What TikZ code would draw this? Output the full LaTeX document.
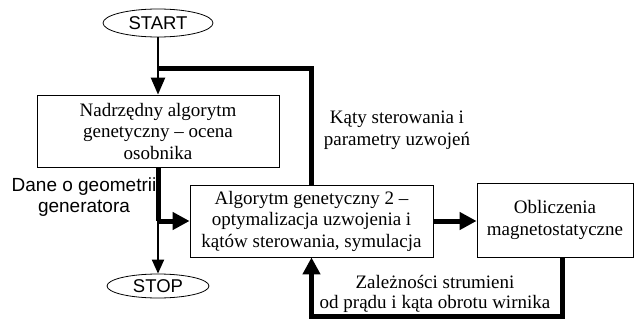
\documentclass[tikz,border=0pt]{standalone}
\usepackage{fontspec}
\setmainfont{Liberation Serif}
\newfontfamily\arialf{Liberation Sans}
\usetikzlibrary{arrows.meta,shapes.geometric}
\begin{document}
\begin{tikzpicture}[x=1pt,y=-1pt,
  box/.style={draw,line width=0.8pt,rectangle,align=center,inner sep=0pt,
    font=\fontsize{19}{21.5}\selectfont},
  term/.style={draw,line width=0.8pt,ellipse,inner sep=0pt,
    font=\arialf\fontsize{18.5}{20}\selectfont},
  lbl/.style={align=center,inner sep=0pt,font=\fontsize{19}{22}\selectfont},
  lblb/.style={align=center,inner sep=0pt,font=\fontsize{19}{20}\selectfont},
  slbl/.style={align=center,inner sep=0pt,font=\arialf\fontsize{19}{21.5}\selectfont},
  thickline/.style={line width=5pt,line join=miter},
  bigtip/.style={-{Triangle[length=17pt,width=17pt]}},
  midtip/.style={-{Triangle[length=17pt,width=14pt]}},
  smalltip/.style={-{Triangle[length=14pt,width=12pt]}}
]
\useasboundingbox (0,0) rectangle (637,321);
\node[term,minimum width=110pt,minimum height=28pt] (start) at (158,23) {START};
\node[box,minimum width=242pt,minimum height=72pt] (b1) at (158,131)
  {Nadrzędny algorytm\\genetyczny – ocena\\osobnika};
\node[box,minimum width=243pt,minimum height=72pt] (b2) at (311.5,221)
  {Algorytm genetyczny 2 –\\optymalizacja uzwojenia i\\kątów sterowania, symulacja};
\node[box,minimum width=156pt,minimum height=74pt] (b3) at (555,220)
  {Obliczenia\\magnetostatyczne};
\node[term,minimum width=102pt,minimum height=24pt] (stop) at (158,286) {STOP};

\node[lbl] (l1) at (397,130) {Kąty sterowania i\\parametry uzwojeń};
\node[slbl] (l2) at (84,197) {Dane o geometrii\\generatora};
\node[lblb] (l3) at (435,294) {Zależności strumieni\\od prądu i kąta obrotu wirnika};

\coordinate (j1) at (158,69);
\coordinate (j2) at (158,221);
\coordinate (f) at (562,316);

\draw[line width=2.5pt,midtip] (start.south) -- (b1.north);
\draw[thickline] (b2.north) |- (j1);
\draw[thickline] (b1.south) -- (j2);
\draw[thickline,bigtip] (j2) -- (b2.west);
\draw[line width=2pt,smalltip] (j2) -- (stop.north);
\draw[thickline,bigtip] (b2.east) -- (b2.east -| b3.west);
\draw[thickline,bigtip] (b3.south -| f) -- (f) -| (b2.south);
\end{tikzpicture}
\end{document}
